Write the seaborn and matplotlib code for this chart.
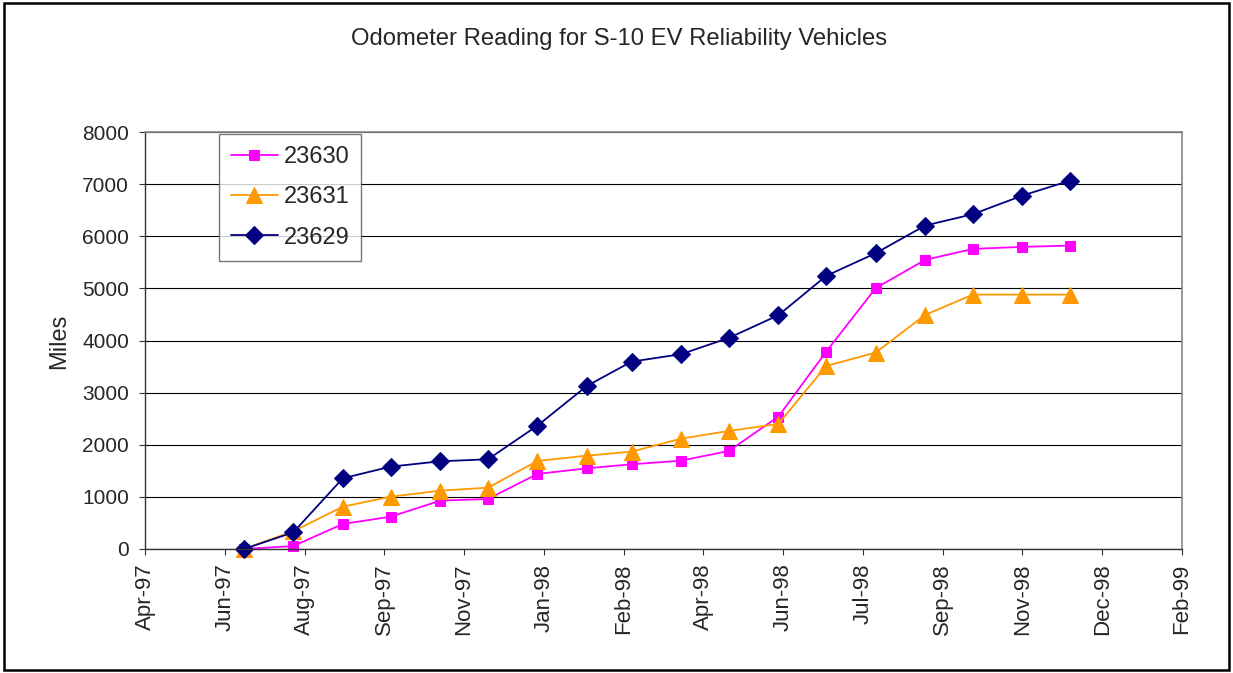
import pandas as pd
import matplotlib.pyplot as plt
import matplotlib.dates as mdates
from matplotlib.patches import Rectangle
import seaborn as sns

# Monthly odometer readings (first of month)
dates = pd.date_range("1997-07-01", "1998-12-01", freq="MS")
miles_23630 = [0, 57, 480, 620, 927, 960, 1440, 1548, 1625, 1695, 1881, 2540,
               3787, 5004, 5547, 5758, 5796, 5821]
miles_23631 = [0, 340, 812, 1004, 1119, 1177, 1689, 1791, 1868, 2117, 2265, 2399,
               3512, 3768, 4491, 4881, 4881, 4881]
miles_23629 = [0, 320, 1357, 1580, 1683, 1721, 2367, 3129, 3595, 3737, 4050, 4485,
               5240, 5675, 6205, 6424, 6781, 7069]

sns.set_style("white")
plt.rcParams["font.family"] = ["Liberation Sans", "DejaVu Sans"]

W, H = 1233, 673
fig = plt.figure(figsize=(W / 100, H / 100), dpi=100)
ax = fig.add_axes([145 / W, 1 - 549 / H, (1182 - 145) / W, (549 - 132) / H])

# Series: (label, values, color, marker, size)
series = [
    ("23630", miles_23630, "#FF00FF", "s", 6.5),
    ("23631", miles_23631, "#FF9900", "^", 11),
    ("23629", miles_23629, "#000080", "D", 9),
]
for label, vals, color, marker, ms in series:
    sns.lineplot(x=dates, y=vals, ax=ax, color=color, marker=marker,
                 markersize=ms, markeredgecolor=color, linewidth=1.3,
                 label=label, clip_on=False)

# x axis: Excel-style date axis, major unit 50 days
start = pd.Timestamp("1997-04-30")
ticks = pd.date_range(start, periods=14, freq="50D")
ax.set_xlim(ticks[0], ticks[-1])
ax.set_xticks(ticks)
ax.xaxis.set_major_formatter(mdates.DateFormatter("%b-%y"))
plt.setp(ax.get_xticklabels(), rotation=90)

ax.set_ylim(0, 8000)
ax.set_yticks(range(0, 8001, 1000))
ax.yaxis.grid(True, color="black", linewidth=0.8)
ax.xaxis.grid(False)

ax.tick_params(axis="x", direction="out", length=4.5, width=0.8, color="#333333",
               labelsize=16, pad=6)
ax.tick_params(axis="y", direction="out", length=4.5, width=0.8, color="#333333",
               labelsize=15, pad=7)
ax.tick_params(bottom=True, left=True)

for side in ["left", "bottom"]:
    ax.spines[side].set_color("#333333")
    ax.spines[side].set_linewidth(1.0)
for side in ["top", "right"]:
    ax.spines[side].set_color("#888888")
    ax.spines[side].set_linewidth(1.2)

ax.set_xlabel("")
ax.set_ylabel("")
fig.text(59 / W, 1 - 341 / H, "Miles", rotation=90, ha="center", va="center",
         fontsize=17)
fig.text(619 / W, 1 - 39 / H, "Odometer Reading for S-10 EV Reliability Vehicles",
         ha="center", va="center", fontsize=17.2)

leg = ax.legend(loc="upper left", bbox_to_anchor=((219 - 145) / 1037, 0.995),
                fontsize=17, frameon=True, fancybox=False, handlelength=2.0,
                borderpad=0.5, labelspacing=0.78, handletextpad=0.25,
                borderaxespad=0)
leg.get_frame().set_edgecolor("#555555")
leg.get_frame().set_linewidth(1.0)

# outer chart border
fig.patches.append(Rectangle((4 / W, 3 / H), (1229 - 4) / W, (670 - 3) / H,
                             transform=fig.transFigure, fill=False,
                             edgecolor="black", linewidth=1.8))

plt.savefig("out.png", dpi=100)
